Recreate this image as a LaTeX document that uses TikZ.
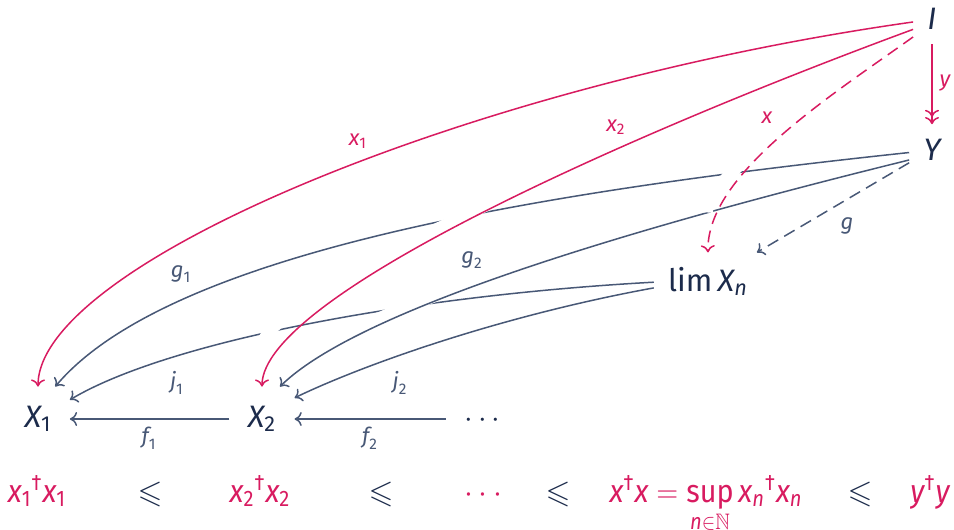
\documentclass[tikz,border=0pt]{standalone}
\usepackage{fix-cm}
\usepackage{amsmath,amssymb}
\usepackage{fontspec}
\setmainfont{Fira Sans}[Numbers=Proportional]
\usetikzlibrary{arrows.meta}
\definecolor{crim}{RGB}{216,27,96}
\definecolor{navy}{RGB}{28,43,75}
\definecolor{slate}{RGB}{72,88,118}
\newcommand{\vv}[1]{\text{\itshape #1}}
\newcommand{\dg}{{}^{\text{†}}}
\newcommand{\nar}[1]{\scalebox{0.9}[1]{#1}}
\begin{document}
\begin{tikzpicture}[x=0.5pt,y=-0.5pt,
  tip/.tip={Computer Modern Rightarrow[length=3.6pt,width=7pt]},
  obj/.style={anchor=base, text=navy, font=\fontsize{15.5}{18}\selectfont, inner sep=7pt},
  low/.style={obj, inner sep=9pt, text height=11pt, text depth=3pt},
  lbl/.style={font=\fontsize{11}{13}\selectfont, inner sep=0pt, text=slate},
  rlbl/.style={lbl, text=crim},
  bot/.style={anchor=base, font=\fontsize{16}{19}\selectfont, inner sep=0pt, text=crim},
  rel/.style={bot, text=navy},
  arr/.style={draw=slate, line width=0.75pt, -tip},
  rarr/.style={arr, draw=crim},
  dsh/.style={dash pattern=on 6pt off 3.5pt},
  over/.style={preaction={draw=white, line width=6pt, arrows=-, solid, shorten <=20pt, shorten >=20pt}}
]
\useasboundingbox (0,0) rectangle (954,530);
% objects
\node[obj] (I) at (932,30) {$\vv{I}$};
\node[obj] (Y) at (932,160) {$\vv{Y}$};
\node[obj] (L) at (708,291) {$\text{lim}\,\vv{X}_{\vv{n}}$};
\node[low] (X1) at (38,427) {$\vv{X}_{\text{1}}$};
\node[low] (X2) at (262,427) {$\vv{X}_{\text{2}}$};
\node[low] (D) at (485,427) {$\cdots$};
% lower arrows
\draw[arr] (L.181) .. controls (403,296) and (165,343) .. (X1.31);
\draw[arr] (L.187) .. controls (505,315) and (367,363) .. (X2.33);
\draw[arr] (X2) -- (X1);
\draw[arr] (D) -- (X2);
\draw[arr, dsh] (Y) -- (L);
\draw[arr, over] (Y.188) .. controls (557,190) and (171,249) .. (X1.62);
\draw[arr, over] (Y.205) .. controls (662,221) and (363,305) .. (X2.61);
% red arrows
\draw[rarr, over] (I.188) .. controls (466,85) and (38,265) .. (X1.north);
\draw[rarr, over] (I.208) .. controls (640,130) and (262,295) .. (X2.north);
\draw[rarr, over, dsh] (I.223) .. controls (829,97) and (706,175) .. (L.north);
\draw[rarr, -{tip[]tip[]}] (I) -- (Y);
% labels
\node[rlbl] (lx1) at (358,141) {$\vv{x}_{\text{1}}$};
\node[rlbl] (lx2) at (616,127) {$\vv{x}_{\text{2}}$};
\node[rlbl] (lx) at (767,118) {$\vv{x}$};
\node[rlbl] (ly) at (945,83) {$\vv{y}$};
\node[lbl] (lg) at (847,226) {$\vv{g}$};
\node[lbl] (lg1) at (181,274) {$\vv{g}_{\text{1}}$};
\node[lbl] (lg2) at (472,260) {$\vv{g}_{\text{2}}$};
\node[lbl] (lj1) at (177,383) {$\vv{j}_{\text{1}}$};
\node[lbl] (lj2) at (400,383) {$\vv{j}_{\text{2}}$};
\node[lbl] (lf1) at (149,438) {$\vv{f}_{\text{1}}$};
\node[lbl] (lf2) at (370,438) {$\vv{f}_{\text{2}}$};
% bottom row
\node[bot] (b1) at (37,502) {\nar{$\vv{x}_{\text{1}}\dg\vv{x}_{\text{1}}$}};
\node[rel] (le1) at (150,502) {$\leqslant$};
\node[bot] (b2) at (260,502) {\nar{$\vv{x}_{\text{2}}\dg\vv{x}_{\text{2}}$}};
\node[rel] (le2) at (381,502) {$\leqslant$};
\node[bot] (b3) at (486,502) {$\cdots$};
\node[rel] (le3) at (558,502) {$\leqslant$};
\node[bot] (b4) at (706,502) {\nar{$\vv{x}\dg\vv{x}=\mathop{\text{sup}}\limits_{\raisebox{1.5pt}[\height][\depth]{$\scriptstyle\vv{n}\in\mathbb{N}$}}\vv{x}_{\vv{n}}\dg\vv{x}_{\vv{n}}$}};
\node[rel] (le4) at (860,502) {$\leqslant$};
\node[bot] (b5) at (930,502) {\nar{$\vv{y}\dg\vv{y}$}};
\end{tikzpicture}
\end{document}
